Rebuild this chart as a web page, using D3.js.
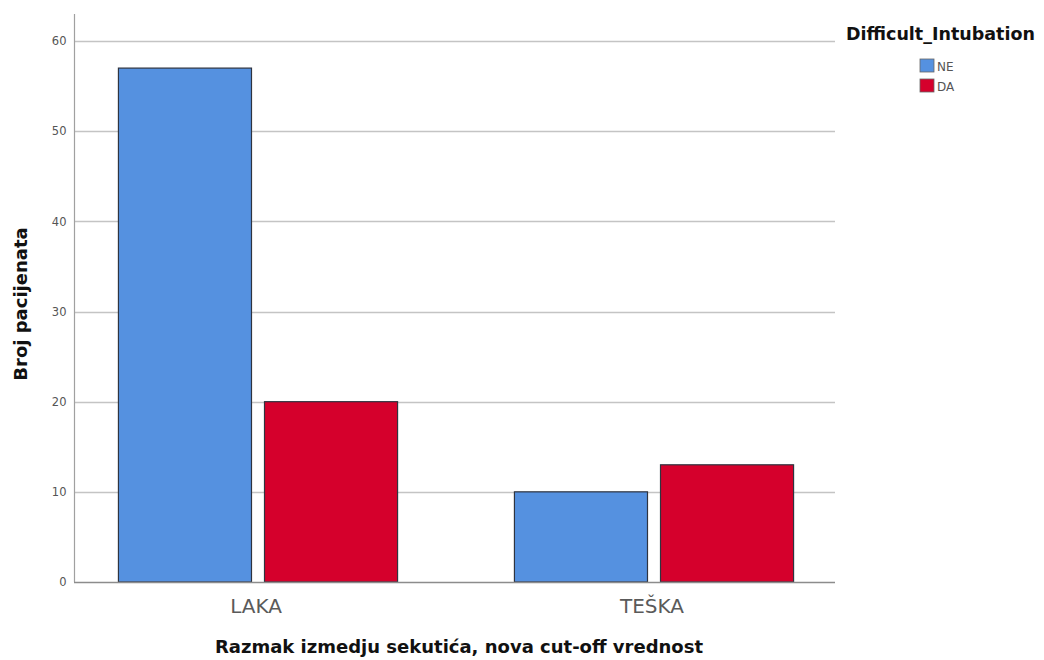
<!DOCTYPE html>
<html><head><meta charset="utf-8">
<script src="https://cdn.jsdelivr.net/npm/d3@7"></script>
<style>body{margin:0;background:#fff;}svg{display:block;font-family:"DejaVu Sans",Verdana,sans-serif;}</style>
</head><body>
<svg id="chart" width="1044" height="660"></svg>
<script>
const categories = ["LAKA", "TEŠKA"];
const series = ["NE", "DA"];
const valuesNE = [57, 10];
const valuesDA = [20, 13];
const yTicks = [0, 10, 20, 30, 40, 50, 60];
const colors = {NE: "#5591E0", DA: "#D5002C"};
const xTitle = "Razmak izmedju sekutića, nova cut-off vrednost";
const yTitle = "Broj pacijenata";
const legendTitle = "Difficult_Intubation";

const svg = d3.select("#chart");
const plotLeft = 74, plotRight = 835, plotTop = 14, plotBottom = 582;

const y = d3.scaleLinear().domain([0, 63]).range([plotBottom, plotTop]);
const x0 = d3.scaleBand().domain(categories).range([60, 852]).paddingInner(0).paddingOuter(0);
const x1 = d3.scaleBand().domain(series).range([0, x0.bandwidth()]).paddingInner(0.089).paddingOuter(0.40);

// gridlines
svg.append("g").selectAll("line").data(yTicks.filter(d => d > 0)).join("line")
  .attr("x1", plotLeft).attr("x2", plotRight)
  .attr("y1", d => Math.round(y(d)) + 0.5).attr("y2", d => Math.round(y(d)) + 0.5)
  .attr("stroke", "#c4c4c4").attr("stroke-width", 1.3);

// y axis
const yAxis = svg.append("g").attr("transform", `translate(${plotLeft + 0.5},0)`)
  .call(d3.axisLeft(y).tickValues(yTicks).tickSize(0).tickPadding(8));
yAxis.select(".domain").attr("stroke", "#a0a0a0").attr("stroke-width", 1.2).attr("d", `M0,${plotTop}V${plotBottom}`);
yAxis.selectAll(".tick text").attr("fill", "#555").style("font-size", "11.5px").style("font-family", "DejaVu Sans");

// bars
const data = categories.map((c, i) => ({cat: c, vals: [{k: "NE", v: valuesNE[i]}, {k: "DA", v: valuesDA[i]}]}));
const g = svg.append("g").selectAll("g").data(data).join("g")
  .attr("transform", d => `translate(${x0(d.cat)},0)`);
g.selectAll("rect").data(d => d.vals).join("rect")
  .attr("x", d => x1(d.k)).attr("width", x1.bandwidth())
  .attr("y", d => y(d.v)).attr("height", d => y(0) - y(d.v))
  .attr("fill", d => colors[d.k]).attr("stroke", "#2f3440").attr("stroke-width", 1.2);

// x axis baseline
svg.append("line").attr("x1", plotLeft).attr("x2", plotRight)
  .attr("y1", plotBottom + 0.5).attr("y2", plotBottom + 0.5).attr("stroke", "#8c8c8c").attr("stroke-width", 1.3);

// category labels
const xAxis = svg.append("g").attr("transform", `translate(0,${plotBottom})`)
  .call(d3.axisBottom(x0).tickSize(0).tickPadding(15));
xAxis.select(".domain").remove();
xAxis.selectAll(".tick text").attr("fill", "#5a5a5a").attr("dy", null).attr("y", 31).attr("dx", -2)
  .style("font-size", "20px").style("font-family", "DejaVu Sans");

// titles
svg.append("text").attr("x", 459).attr("y", 653).attr("text-anchor", "middle")
  .style("font-size", "18px").style("font-weight", "bold").attr("fill", "#111").text(xTitle);
svg.append("text").attr("transform", "translate(27,304) rotate(-90)").attr("text-anchor", "middle")
  .style("font-size", "18px").style("font-weight", "bold").attr("fill", "#111").text(yTitle);

// legend
svg.append("text").attr("x", 846).attr("y", 40).style("font-size", "17.5px").style("font-weight", "bold")
  .attr("fill", "#111").text(legendTitle);
const lg = svg.append("g").selectAll("g").data(series).join("g")
  .attr("transform", (d, i) => `translate(920,${59 + i * 20})`);
lg.append("rect").attr("width", 14).attr("height", 13).attr("fill", d => colors[d])
  .attr("stroke", "#666").attr("stroke-width", 0.8);
lg.append("text").attr("x", 17).attr("y", 12).style("font-size", "12px").attr("fill", "#555").text(d => d);
</script>
</body></html>
